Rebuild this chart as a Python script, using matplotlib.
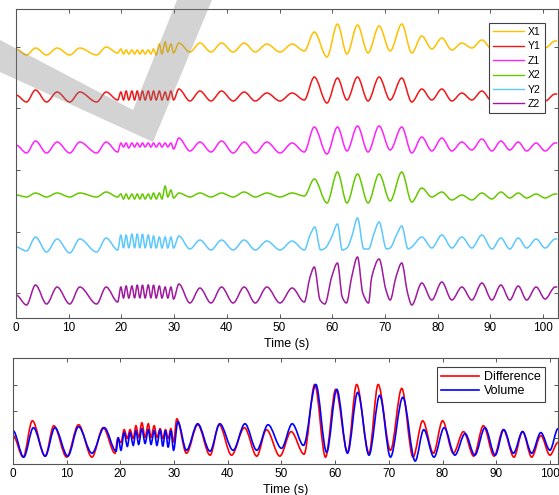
import numpy as np
import matplotlib
matplotlib.use("Agg")
import matplotlib.pyplot as plt
from matplotlib.path import Path
from matplotlib.patches import PathPatch, Polygon
from matplotlib.lines import Line2D

plt.rcParams['font.family'] = ['Liberation Sans', 'DejaVu Sans']

# ---- top panel: times of peaks / troughs (s), shared by the traces
t_top = [0, 2.0, 3.7, 5.8, 7.8, 10.2, 12.1, 15.3, 17.1, 19.3,
         19.9, 20.4, 20.9, 21.4, 22.0, 22.5, 23.0, 23.5, 24.0, 24.5,
         25.1, 25.6, 26.1, 26.6, 27.2, 27.7, 28.3, 28.8, 29.4, 29.9,
         30.9, 33.0, 34.9, 37.0, 39.0, 41.2, 43.3, 45.4, 47.6, 50.1, 52.4, 54.7,
         56.6, 59.0, 61.0, 62.8, 64.8, 66.8, 68.9, 71.0, 73.2, 75.1,
         77.0, 78.9, 80.8, 82.7, 84.6, 86.5, 88.4, 90.3, 92.0, 93.7,
         95.3, 96.9, 98.7, 100.4, 102.3, 102.7]

x1 = [3, -3, 4, -3, 4, -3, 4, -3, 5, -1,
      3, -2, 2, -2, 2, -2, 2, -2, 2, -2, 2, -2, 3, -3, 8, -2, 10, 0, 8, -1,
      9, 0, 9, 0, 9, 0, 9, 0, 8, 0, 8, 1,
      20, -5, 28, -2, 27, -1, 26, 1, 28, -1,
      16, 3, 14, 2, 9, 4, 12, 3, 12, 3, 11, 3, 11, 4, 11, 11]
y1 = [2, -5, 7, -5, 5, -5, 5, -5, 5, -3,
      5, -3, 6, -3, 6, -3, 6, -3, 6, -3, 6, -3, 6, -3, 6, -3, 5, -3, 6, -3,
      8, -4, 6, -4, 6, -4, 5, -4, 4, -4, 4, -3,
      20, -6, 19, -3, 20, -4, 20, -3, 19, -5,
      8, -3, 8, -4, 4, -3, 6, -4, 5, -4, 5, -4, 5, -4, 3, 3]
z1 = [3, -5, 7, -5, 6, -5, 6, -5, 6, -4,
      5, 1, 5, 0, 5, 1, 5, 1, 5, 1, 5, 1, 5, 1, 5, 1, 5, 1, 5, -1,
      10, -3, 6, -4, 7, -5, 6, -5, 6, -5, 5, -4,
      21, -6, 21, -3, 22, -4, 22, -2, 21, -5,
      11, -3, 10, -3, 6, -2, 9, -3, 7, -2, 6, -3, 5, -3, 5, 5]
x2 = [1, -1, 3, -1, 3, -1, 3, -1, 4, -1,
      2, -3, 2, -3, 2, -3, 2, -3, 2, -3, 2, -3, 3, -3, 3, -3, 10, -1, 6, -2,
      3, -1, 3, -1, 3, -1, 4, -1, 3, -1, 3, 0,
      17, -7, 24, -7, 22, -7, 22, -5, 24, -6,
      8, -1, 4, -4, 1, -4, 3, -3, 4, -2, 3, -2, 2, -2, 2, 2]
y2 = [2, -2, 12, -3, 10, -4, 10, -3, 11, -1,
      14, 1, 14, 1, 15, 1, 15, 1, 15, 1, 14, 1, 13, 1, 12, 1, 12, 1, 12, 1,
      13, 0, 9, -1, 9, -1, 9, -1, 8, -1, 8, -1,
      22, -1, 25, -1, 31, -1, 27, 0, 23, 0,
      12, 1, 14, 1, 12, 1, 14, 0, 11, 0, 11, 1, 10, 1, 10, 10]
z2 = [5, -5, 15, -4, 13, -4, 13, -4, 13, -2,
      13, 2, 14, 2, 14, 2, 15, 2, 15, 2, 15, 2, 15, 2, 14, 2, 13, 2, 13, 1,
      16, -3, 12, -3, 13, -3, 13, -3, 13, -3, 12, -2,
      33, -4, 37, -3, 43, -3, 41, -2, 37, -5,
      17, 0, 18, 0, 13, 0, 17, 0, 15, 0, 14, 0, 13, 1, 13, 13]

# Y2 and Z2 have sharper peaks (shoulder, peak, fast drop) between 54.7 s and 75.1 s
t_y2_big = [54.7, 55.8, 56.7, 57.8, 58.7, 59.9, 61.0, 61.9, 62.8, 63.8, 64.8,
            66.0, 66.9, 67.9, 68.9, 70.3, 71.0, 72.2, 73.2, 74.4, 75.1]
y2_big = [-1, 14, 22, -1, 1, 12, 25, -1, 1, 14, 31, 0, 0, 15, 27, 0, 1, 14, 23, 0, 2]
t_z2_big = [54.7, 55.8, 56.6, 57.7, 58.6, 59.9, 61.0, 61.9, 62.7, 63.7, 64.8,
            65.8, 66.9, 67.5, 68.9, 70.2, 71.0, 72.1, 73.2, 74.3, 75.1]
z2_big = [-2, 23, 33, 0, -4, 23, 37, 3, -3, 23, 43, 7, -3, 23, 41, 10, 0, 23, 37, 7, -5]

names = ['X1', 'Y1', 'Z1', 'X2', 'Y2', 'Z2']
offsets = [266, 221, 170, 122, 69, 18]
colors = ['#FFC000', '#F01818', '#FF22FF', '#66C800', '#5CC8FF', '#A0199F']

# ---- bottom panel
t_diff = [0, 1.9, 3.6, 6.0, 7.6, 10.0, 12.2, 14.7, 16.8, 19.0,
          19.5, 20.1, 20.7, 21.3, 21.8, 22.4, 22.9, 23.4, 24.0, 24.6,
          25.2, 25.7, 26.3, 26.8, 27.4, 27.9, 28.4, 28.9, 29.4, 29.9,
          30.5, 32.3, 34.4, 36.7, 38.4, 40.7, 43.1, 45.4, 47.2, 49.7, 51.8, 54.2,
          56.2, 58.2, 60.1, 62.3, 64.0, 66.3, 68.0, 70.3, 72.4, 74.5,
          76.3, 78.3, 80.0, 82.0, 83.9, 85.8, 87.6, 89.6, 91.3, 93.3,
          94.9, 96.6, 98.3, 100.0, 101.5]
diff = [29, 7, 44, 8, 39, 7, 40, 7, 37, 11,
        26, 22, 35, 26, 35, 26, 39, 27, 42, 27,
        41, 27, 39, 27, 36, 26, 35, 26, 36, 22,
        46, 11, 40, 9, 40, 9, 37, 8, 35, 8, 33, 10,
        81, 7, 76, 12, 81, 11, 81, 14, 77, 7,
        44, 11, 44, 11, 33, 8, 39, 8, 35, 7,
        33, 7, 29, 9, 22]
t_vol = [0, 2.0, 3.8, 6.0, 7.8, 10.2, 12.2, 14.7, 17.0, 19.2,
         19.6, 20.1, 20.7, 21.3, 21.8, 22.4, 22.9, 23.4, 24.0, 24.6,
         25.2, 25.7, 26.3, 26.8, 27.4, 27.9, 28.4, 28.9, 29.4, 29.9,
         30.7, 32.3, 34.4, 36.7, 38.5, 41.0, 43.2, 45.4, 47.5, 50.0, 52.0, 54.1,
         56.4, 58.4, 60.3, 62.3, 64.2, 66.3, 68.3, 70.3, 72.6, 74.9,
         76.5, 78.4, 80.3, 82.3, 84.2, 86.0, 87.9, 89.8, 91.4, 93.2,
         94.9, 96.6, 98.3, 100.0, 101.5]
vol = [34, 7, 37, 8, 37, 8, 38, 11, 37, 13,
       27, 14, 32, 18, 32, 19, 34, 20, 36, 21,
       35, 20, 34, 19, 35, 18, 34, 17, 34, 14,
       43, 14, 41, 13, 41, 14, 41, 14, 40, 16, 41, 19,
       81, 12, 76, 11, 73, 9, 70, 7, 68, 3,
       35, 7, 37, 9, 31, 9, 37, 9, 35, 11,
       33, 11, 32, 14, 36]


def smooth(t, y):
    # monotone cubic (bezier form) through the read points
    t = np.asarray(t, float)
    y = np.asarray(y, float)
    d = np.diff(y) / np.diff(t)
    m = np.zeros_like(y)
    for i in range(1, len(y) - 1):
        if d[i - 1] * d[i] > 0:
            m[i] = 2.0 / (1.0 / d[i - 1] + 1.0 / d[i])
    verts = [(t[0], y[0])]
    codes = [Path.MOVETO]
    for i in range(len(t) - 1):
        h = (t[i + 1] - t[i]) / 3.0
        verts += [(t[i] + h, y[i] + m[i] * h),
                  (t[i + 1] - h, y[i + 1] - m[i + 1] * h),
                  (t[i + 1], y[i + 1])]
        codes += [Path.CURVE4] * 3
    return Path(verts, codes)


def style(ax):
    for s in ax.spines.values():
        s.set_color('#555555')
        s.set_linewidth(0.8)
    ax.tick_params(direction='in', length=3, width=0.7, color='#555555',
                   top=True, right=True, labelsize=8.5, pad=3)


times = [t_top] * 4 + [t_top[:41] + t_y2_big + t_top[52:],
                       t_top[:41] + t_z2_big + t_top[52:]]
series = [x1, y1, z1, x2,
          y2[:41] + y2_big + y2[52:],
          z2[:41] + z2_big + z2[52:]]

fig = plt.figure(figsize=(5.59, 4.95), dpi=100)

ax1 = fig.add_axes([16 / 559, 177 / 495, 541.5 / 559, 309 / 495])
for t, sig, off, c in zip(times, series, offsets, colors):
    vals = np.array(sig) + off
    ax1.add_patch(PathPatch(smooth(t, vals), fill=False, edgecolor=c, lw=1.1))
ax1.set_xlim(0, 102.75)
ax1.set_ylim(0, 309)
ax1.set_xticks(np.arange(0, 101, 10))
ax1.set_yticks(np.arange(25, 300, 61.5))
ax1.set_yticklabels([])
ax1.set_xlabel('Time (s)', fontsize=9, labelpad=3)
style(ax1)
handles = [Line2D([], [], color=c, lw=1.0) for c in colors]
leg = ax1.legend(handles, names, loc='upper right', bbox_to_anchor=(0.977, 0.955),
                 fontsize=7.5, frameon=True, fancybox=False, framealpha=1,
                 edgecolor='#404040', handlelength=3.0, labelspacing=0.42,
                 borderpad=0.4, handletextpad=0.35, borderaxespad=0)
leg.get_frame().set_linewidth(0.8)

ax2 = fig.add_axes([13 / 559, 31 / 495, 545 / 559, 106 / 495])
ax2.add_patch(PathPatch(smooth(t_diff, diff), fill=False, edgecolor='#FF0000', lw=1.2))
ax2.add_patch(PathPatch(smooth(t_vol, vol), fill=False, edgecolor='#0000FF', lw=1.2))
ax2.set_xlim(0, 101.5)
ax2.set_ylim(0, 106)
ax2.set_xticks(np.arange(0, 101, 10))
ax2.set_yticks(np.arange(0, 110, 27))
ax2.set_yticklabels([])
ax2.set_xlabel('Time (s)', fontsize=9, labelpad=3)
style(ax2)
h2 = [Line2D([], [], color='#FF0000', lw=1.2), Line2D([], [], color='#0000FF', lw=1.2)]
leg2 = ax2.legend(h2, ['Difference', 'Volume'], loc='upper right',
                  bbox_to_anchor=(0.976, 0.915), fontsize=9, frameon=True,
                  fancybox=False, framealpha=1, edgecolor='#404040',
                  handlelength=3.0, labelspacing=0.15, borderpad=0.35,
                  handletextpad=0.4, borderaxespad=0)
leg2.get_frame().set_linewidth(0.8)

# grey check-mark watermark over the top panel
pts = [(0, 40), (133, 110), (177, 0), (212, 0), (153, 142), (0, 72)]
wm = Polygon([(x / 559, 1 - y / 495) for x, y in pts], closed=True,
             transform=fig.transFigure, facecolor='#808080', edgecolor='none',
             alpha=0.34, zorder=10)
fig.add_artist(wm)

fig.savefig('out.png', dpi=100)
